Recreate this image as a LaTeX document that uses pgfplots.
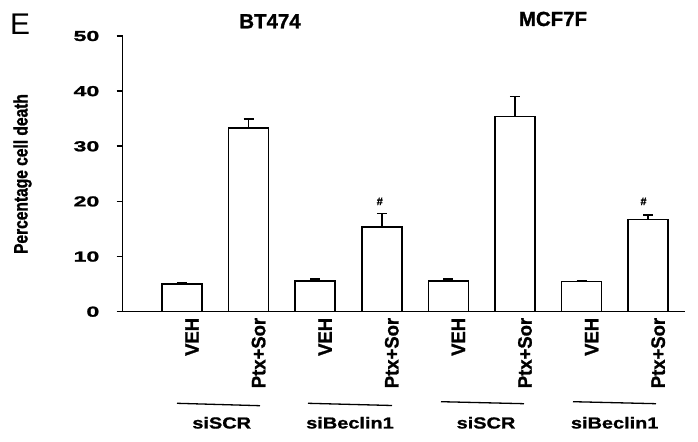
\documentclass[border=0pt]{standalone}
\usepackage{fontspec}
\setmainfont{Liberation Sans}
\newfontfamily\boldfont[FakeBold=1.2]{Liberation Sans Bold}
\newfontfamily\tickfont[FakeStretch=1.6, FakeBold=1.5]{Liberation Sans Bold}
\newfontfamily\xlabfont[FakeStretch=0.95, FakeBold=1.2]{Liberation Sans Bold}
\newfontfamily\ylabfont[FakeStretch=0.8, FakeBold=1.2]{Liberation Sans Bold}
\newfontfamily\grpfont[FakeStretch=1.25, FakeBold=1.2]{Liberation Sans Bold}
\usepackage{pgfplots}
\pgfplotsset{compat=1.18}

\begin{document}
\begin{tikzpicture}
\path[use as bounding box] (0,0) rectangle (698bp,442bp);
\begin{axis}[
  at={(122.5bp,130.3bp)}, anchor=south west,
  scale only axis, width=562.5bp, height=275.7bp,
  xmin=0.107, xmax=8.553, ymin=0, ymax=50,
  axis x line=bottom, axis y line=left,
  axis line style={line width=1.6bp, -},
  tick align=outside,
  ytick={0,10,20,30,40,50},
  major y tick style={line width=1.6bp, black},
  major tick length=6bp,
  xtick={1,2,3,4,5,6,7,8},
  xticklabels={VEH,Ptx+Sor,VEH,Ptx+Sor,VEH,Ptx+Sor,VEH,Ptx+Sor},
  major x tick style={draw=none},
  /pgf/number format/assume math mode=true,
  yticklabel style={font=\tickfont\fontsize{14.5}{14.5}\selectfont, anchor=east, inner sep=0pt, xshift=-17bp},
  xticklabel style={font=\xlabfont\fontsize{19.5}{19.5}\selectfont, rotate=90, anchor=east, inner sep=0pt, yshift=-10bp},
  clip=false,
]
\addplot[ybar, bar width=0.6, fill=white, draw=black, line width=1.6bp,
  error bars/.cd, y dir=plus, y explicit,
  error bar style={line width=1.6bp, black},
  error mark options={rotate=90, mark size=5bp, line width=1.6bp, black}]
coordinates {
  (1,5.0)   +- (0,0.3)
  (2,33.3)  +- (0,1.6)
  (3,5.6)   +- (0,0.3)
  (4,15.4)  +- (0,2.4)
  (5,5.6)   +- (0,0.3)
  (6,35.4)  +- (0,3.6)
  (7,5.45)  +- (0,0.15)
  (8,16.75) +- (0,0.75)
};
\node[font=\boldfont\fontsize{11}{11}\selectfont, inner sep=0pt] at (axis cs:3.97,20) {\#};
\node[font=\boldfont\fontsize{11}{11}\selectfont, inner sep=0pt] at (axis cs:7.93,20) {\#};
\end{axis}

\begin{scope}[x=1bp, y=-1bp, shift={(0,442bp)}]
\node[font=\fontsize{30}{30}\selectfont, anchor=base west, inner sep=0pt] at (10,35) {E};
\node[font=\boldfont\fontsize{20.5}{20.5}\selectfont, anchor=base, inner sep=0pt] at (270,28.3) {BT474};
\node[font=\boldfont\fontsize{20.5}{20.5}\selectfont, anchor=base, inner sep=0pt] at (553,26) {MCF7F};
\node[font=\ylabfont\fontsize{19.5}{19.5}\selectfont, rotate=90, anchor=base, inner sep=0pt] at (27.5,174) {Percentage cell death};
\draw[line width=1.3bp] (177,403.3) -- (260,405.7);
\draw[line width=1.3bp] (308,403.3) -- (392,405.5);
\draw[line width=1.3bp] (441,401.7) -- (524,403.7);
\draw[line width=1.3bp] (573,401.7) -- (656,403.7);
\begin{scope}[every node/.style={font=\grpfont\fontsize{16}{16}\selectfont, anchor=base, inner sep=0pt}]
\node at (221.7,428.5) {siSCR};
\node at (350,428.5) {siBeclin1};
\node at (486,428.5) {siSCR};
\node at (614.7,428.5) {siBeclin1};
\end{scope}
\end{scope}
\end{tikzpicture}
\end{document}
